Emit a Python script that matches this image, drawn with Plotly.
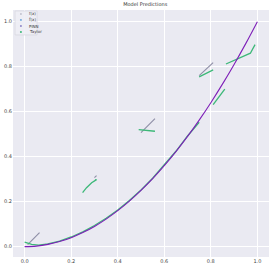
import plotly.graph_objects as go

# True function samples (purple)
x_true = [0.0, 0.05, 0.1, 0.15, 0.2, 0.25, 0.3, 0.35, 0.4, 0.45, 0.5,
          0.55, 0.6, 0.65, 0.7, 0.75, 0.8, 0.85, 0.9, 0.95, 1.0]
y_true = [0.0, 0.0025, 0.01, 0.0225, 0.04, 0.0625, 0.09, 0.1225, 0.16, 0.2025, 0.25,
          0.3025, 0.36, 0.4225, 0.49, 0.5625, 0.64, 0.7225, 0.81, 0.9025, 1.0]

# Model prediction (green), pieces separated by None
x_pred = [0.0, 0.03, 0.06, 0.1, 0.15, 0.2, 0.25, 0.3, 0.35, 0.4, 0.45, 0.5, 0.55, 0.6, 0.65, 0.7, 0.75, None,
          0.249, 0.266, 0.288, 0.309, 0.302, None,
          0.49, 0.56, None,
          0.75, 0.81, None,
          0.81, 0.86, None,
          0.865, 0.97, 0.99]
y_pred = [0.02, 0.01, 0.007, 0.012, 0.025, 0.043, 0.066, 0.094, 0.126, 0.163, 0.205, 0.252, 0.304, 0.362, 0.424, 0.492, 0.553, None,
          0.24, 0.262, 0.284, 0.298, 0.297, None,
          0.52, 0.513, None,
          0.755, 0.786, None,
          0.631, 0.70, None,
          0.812, 0.86, 0.898]

# Tangent segments (gray)
x_tan = [0.013, 0.064, None, 0.30, 0.309, None, 0.50, 0.56, None, 0.75, 0.81]
y_tan = [0.009, 0.062, None, 0.307, 0.316, None, 0.507, 0.569, None, 0.76, 0.818]

legend_labels = ["f(x)", "f̂(x)", "PINN", "Taylor"]
legend_colors = ["#c4c4d0", "#6fa8dc", "#8f86c8", "#3cb878"]

fig = go.Figure()
fig.add_trace(go.Scatter(x=x_tan, y=y_tan, mode="lines", showlegend=False,
                         line=dict(color="#8e8ea6", width=1.1)))
fig.add_trace(go.Scatter(x=x_pred, y=y_pred, mode="lines", showlegend=False,
                         line=dict(color="#3cb878", width=1.3)))
fig.add_trace(go.Scatter(x=x_true, y=y_true, mode="lines", showlegend=False,
                         line=dict(color="#7e1fb8", width=1.1, shape="spline")))

# Manual compact legend (paper coordinates)
shapes = [dict(type="rect", xref="paper", yref="paper", x0=0.008, x1=0.094, y0=0.899, y1=0.996,
               fillcolor="rgba(238,238,245,0.9)", line=dict(color="#d4d4dc", width=0.6), layer="above")]
annotations = []
rows_y = [0.984, 0.960, 0.935, 0.911]
for lab, col, yy in zip(legend_labels, legend_colors, rows_y):
    shapes.append(dict(type="circle", xref="paper", yref="paper",
                       x0=0.031 - 0.004, x1=0.031 + 0.004, y0=yy - 0.004, y1=yy + 0.004,
                       fillcolor=col, line=dict(width=0), layer="above"))
    annotations.append(dict(xref="paper", yref="paper", x=0.055, y=yy, xanchor="left", yanchor="middle",
                            text=lab, showarrow=False,
                            font=dict(family="DejaVu Sans", size=4, color="#333")))

tick_font = dict(family="DejaVu Sans", size=5, color="#444")
fig.update_layout(
    width=274, height=269,
    margin=dict(l=13, r=5, t=10, b=12, autoexpand=False),
    paper_bgcolor="white",
    plot_bgcolor="#EAEAF2",
    title=dict(text="Model Predictions", x=0.53, y=0.985, xanchor="center", yanchor="middle",
               font=dict(family="DejaVu Sans", size=5, color="#333")),
    showlegend=False,
    shapes=shapes,
    annotations=annotations,
    xaxis=dict(range=[-0.05, 1.05], tickvals=[0, 0.2, 0.4, 0.6, 0.8, 1.0],
               ticktext=["0.0", "0.2", "0.4", "0.6", "0.8", "1.0"],
               showgrid=True, gridcolor="white", gridwidth=1, zeroline=False,
               showline=False, ticks="", ticklen=0, tickfont=tick_font, automargin=False),
    yaxis=dict(range=[-0.046, 1.052], tickvals=[0, 0.2, 0.4, 0.6, 0.8, 1.0],
               ticktext=["0.0", "0.2", "0.4", "0.6", "0.8", "1.0"],
               showgrid=True, gridcolor="white", gridwidth=1, zeroline=False,
               showline=False, ticks="", ticklen=0, tickfont=tick_font, automargin=False),
)

fig.write_html("out.html", config={"displayModeBar": False},
               post_script="document.body.style.margin='0';document.body.style.overflow='hidden';")
